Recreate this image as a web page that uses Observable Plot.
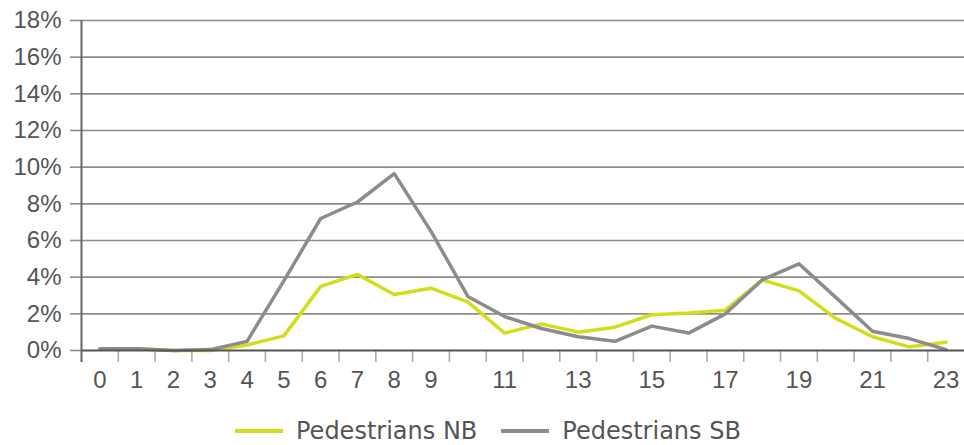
<!DOCTYPE html>
<html>
<head>
<meta charset="utf-8">
<script src="https://cdn.jsdelivr.net/npm/d3@7"></script>
<script src="https://cdn.jsdelivr.net/npm/@observablehq/plot@0.6"></script>
<style>
  html, body { margin: 0; padding: 0; background: #fff; }
  #chart { width: 964px; height: 445px; position: relative; font-family: "Liberation Sans", Arial, sans-serif; }
  .legend { position: absolute; left: 235px; top: 417px; display: flex; align-items: center; font-family: "DejaVu Sans", sans-serif; font-size: 24px; line-height: 28px; color: #555; }
  .legend .item { display: flex; align-items: center; margin-right: 24px; }
  .legend .sw { width: 48px; height: 3.5px; margin-right: 13px; }
</style>
</head>
<body>
<div id="chart"></div>
<script>
const hours = [0,1,2,3,4,5,6,7,8,9,10,11,12,13,14,15,16,17,18,19,20,21,22,23];
const pedestriansNB = [0.1,0.1,0.0,0.0,0.3,0.8,3.5,4.15,3.05,3.4,2.65,0.95,1.45,1.0,1.27,1.95,2.05,2.2,3.85,3.25,1.75,0.75,0.2,0.45];
const pedestriansSB = [0.1,0.1,0.0,0.05,0.5,3.8,7.2,8.1,9.65,6.5,2.95,1.85,1.2,0.75,0.5,1.33,0.95,2.0,3.85,4.73,2.9,1.05,0.65,0.05];
const xTickLabels = [0,1,2,3,4,5,6,7,8,9,11,13,15,17,19,21,23];
const yTicks = [0,2,4,6,8,10,12,14,16,18];
const seriesNames = ["Pedestrians NB", "Pedestrians SB"];
const seriesColors = ["#d4dd1c", "#8c8c8c"];

const rows = hours.map((h, i) => ({hour: h, nb: pedestriansNB[i], sb: pedestriansSB[i]}));
const x0 = hours[0] - 0.5, x1 = hours[hours.length - 1] + 0.5;

const plot = Plot.plot({
  width: 964,
  height: 400,
  marginLeft: 81,
  marginRight: 0,
  marginTop: 20,
  marginBottom: 50,
  style: {fontFamily: "Liberation Sans, Arial, sans-serif", background: "#fff"},
  x: {domain: [x0, x1], axis: null, label: null},
  y: {domain: [0, 18], axis: null, label: null},
  marks: [
    Plot.ruleY(yTicks.filter(d => d > 0), {x1: x0, x2: x1, stroke: "#8c8c8c", strokeWidth: 1.6}),
    Plot.axisY(yTicks, {label: null, tickSize: 11, tickPadding: 9, tickFormat: d => d + "%", fontSize: 24, stroke: "#8c8c8c", fill: "#555", strokeWidth: 1.6}),
    Plot.ruleX(hours.slice(1), {x: d => d - 0.5, y1: 0, y2: 0, insetBottom: -12, stroke: "#aaa", strokeWidth: 1.6}),
    Plot.axisX(xTickLabels, {label: null, tickSize: 0, tickPadding: 20, fontSize: 24, fill: "#555"}),
    Plot.line(rows, {x: "hour", y: "nb", stroke: seriesColors[0], strokeWidth: 3.5}),
    Plot.line(rows, {x: "hour", y: "sb", stroke: seriesColors[1], strokeWidth: 3.5}),
    Plot.ruleY([0], {x1: x0, x2: x1, stroke: "#555", strokeWidth: 2}),
    Plot.ruleX([x0], {y1: 18, y2: 0, insetBottom: -12, stroke: "#666", strokeWidth: 2})
  ]
});

const chart = document.getElementById("chart");
chart.appendChild(plot);
const legend = document.createElement("div");
legend.className = "legend";
seriesNames.forEach((name, i) => {
  const item = document.createElement("div");
  item.className = "item";
  const sw = document.createElement("span");
  sw.className = "sw";
  sw.style.background = seriesColors[i];
  const label = document.createElement("span");
  label.textContent = name;
  item.appendChild(sw);
  item.appendChild(label);
  legend.appendChild(item);
});
chart.appendChild(legend);
</script>
</body>
</html>
